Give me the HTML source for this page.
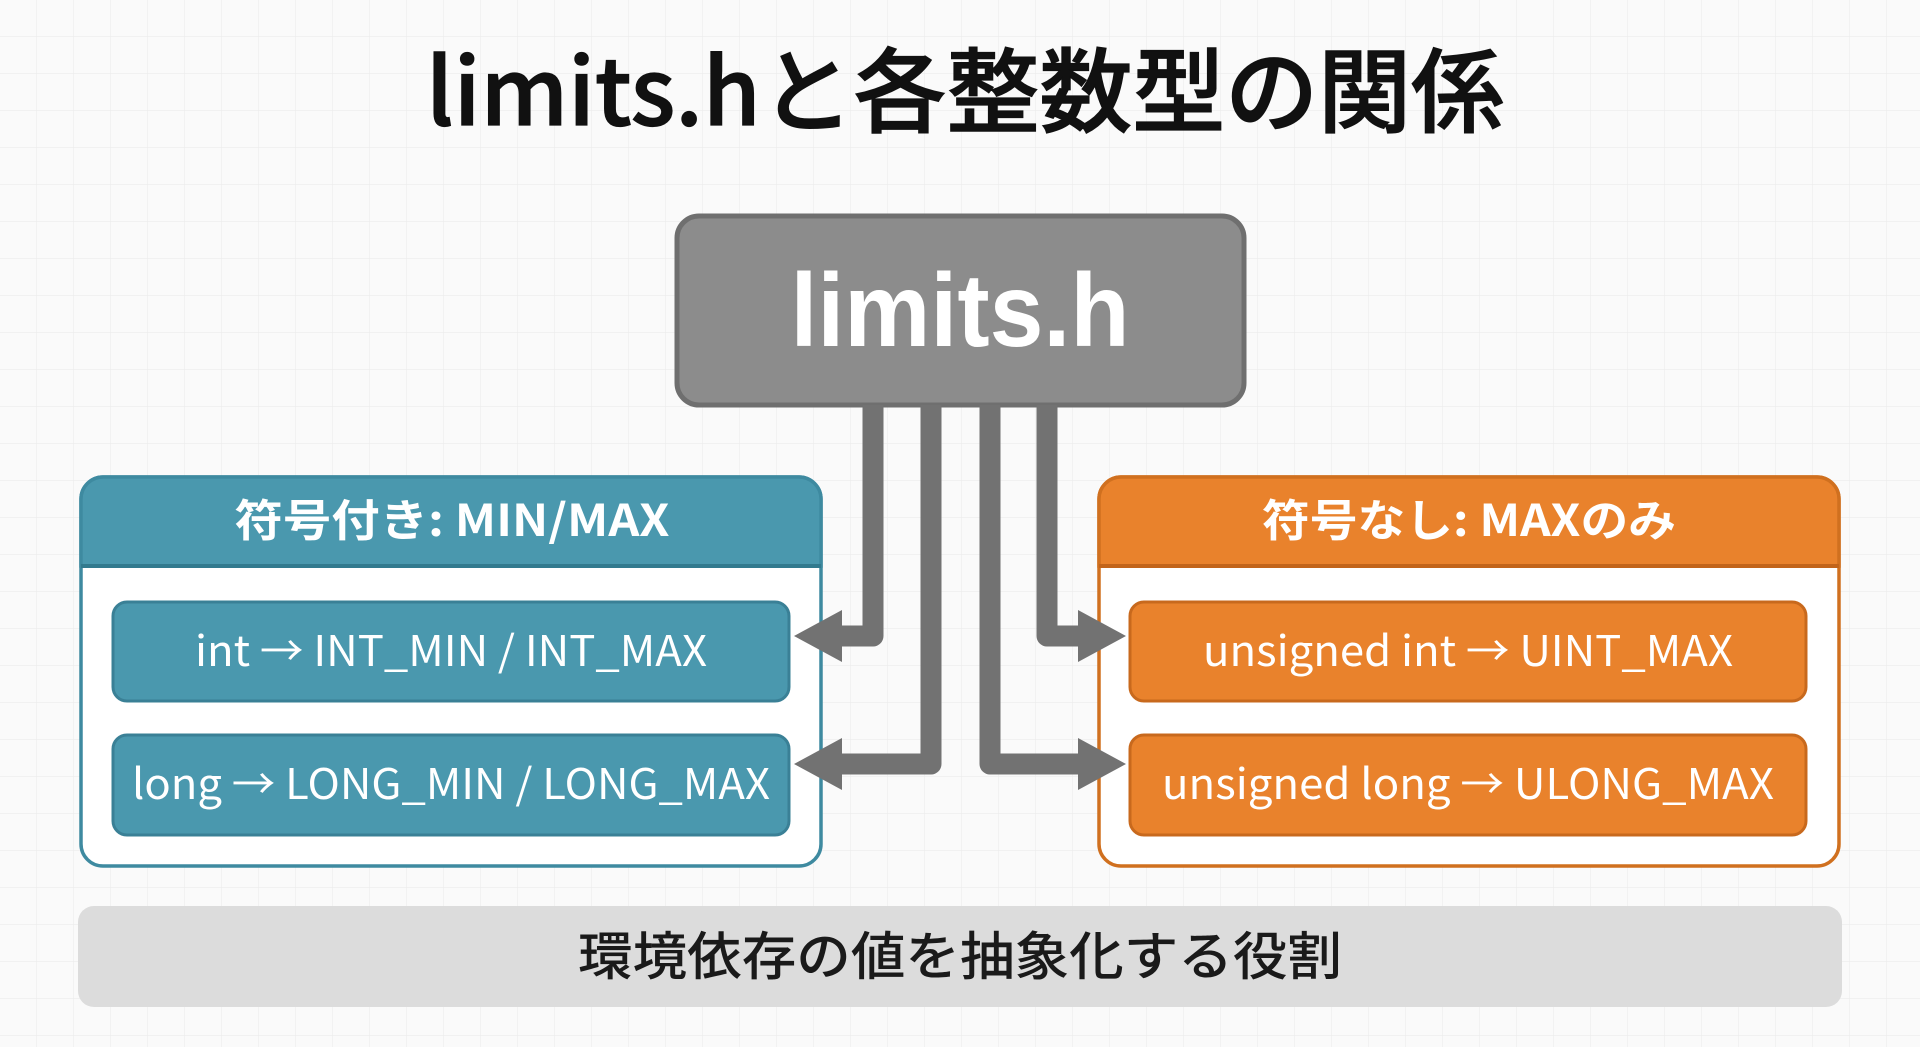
<!DOCTYPE html>
<html><head><meta charset="utf-8"><style>
html,body{margin:0;padding:0;width:1920px;height:1047px;overflow:hidden;background:#fafafa}
svg{display:block}
text{font-family:"Liberation Sans","Noto Sans CJK JP",sans-serif}
.j{font-family:"Noto Sans CJK JP",sans-serif}
</style></head><body>
<svg width="1920" height="1047" viewBox="0 0 1920 1047" xmlns="http://www.w3.org/2000/svg">
<defs>
<pattern id="g" width="37" height="37" patternUnits="userSpaceOnUse">
<path d="M37 0V37H0" fill="none" stroke="#ececec" stroke-width="1.2"/>
</pattern>
</defs>
<rect width="1920" height="1047" fill="#fafafa"/>
<rect width="1920" height="1047" fill="url(#g)"/>

<text class="j" x="965" y="125" text-anchor="middle" font-size="92" font-weight="500" fill="#111" stroke="#111" stroke-width="1.2" textLength="1078" lengthAdjust="spacingAndGlyphs">limits.hと各整数型の関係</text>

<!-- top box -->
<rect x="677" y="216" width="567" height="189" rx="22" fill="#8c8c8c" stroke="#6f6f6f" stroke-width="5"/>
<text x="960" y="346" text-anchor="middle" font-size="104" font-weight="bold" fill="#fff" textLength="339" lengthAdjust="spacingAndGlyphs">limits.h</text>

<!-- left panel -->
<rect x="81" y="477" width="740" height="389" rx="22" fill="#fff" stroke="#3e8aa0" stroke-width="3.5"/>
<path d="M81 566V499a22 22 0 0 1 22-22H799a22 22 0 0 1 22 22V566Z" fill="#4a98ae" stroke="#3e8aa0" stroke-width="3.5"/>
<line x1="81" y1="566" x2="821" y2="566" stroke="#327a8e" stroke-width="4"/>
<text class="j" x="452" y="536" text-anchor="middle" font-size="44" font-weight="bold" fill="#fff" textLength="435" lengthAdjust="spacingAndGlyphs">符号付き: MIN/MAX</text>
<rect x="113" y="602" width="676" height="99" rx="14" fill="#4a98ae" stroke="#3a8096" stroke-width="3"/>
<text class="j" x="451" y="666" text-anchor="middle" font-size="42" fill="#fff" textLength="512" lengthAdjust="spacingAndGlyphs">int → INT_MIN / INT_MAX</text>
<rect x="113" y="735" width="676" height="100" rx="14" fill="#4a98ae" stroke="#3a8096" stroke-width="3"/>
<text class="j" x="451" y="799" text-anchor="middle" font-size="42" fill="#fff" textLength="638" lengthAdjust="spacingAndGlyphs">long → LONG_MIN / LONG_MAX</text>

<!-- right panel -->
<rect x="1099" y="477" width="740" height="389" rx="22" fill="#fff" stroke="#d0701f" stroke-width="3.5"/>
<path d="M1099 566V499a22 22 0 0 1 22-22H1817a22 22 0 0 1 22 22V566Z" fill="#e9822c" stroke="#d0701f" stroke-width="3.5"/>
<line x1="1099" y1="566" x2="1839" y2="566" stroke="#c2641a" stroke-width="4"/>
<text class="j" x="1469" y="536" text-anchor="middle" font-size="44" font-weight="bold" fill="#fff" textLength="414" lengthAdjust="spacingAndGlyphs">符号なし: MAXのみ</text>
<rect x="1130" y="602" width="676" height="99" rx="14" fill="#e9822c" stroke="#c8691d" stroke-width="3"/>
<text class="j" x="1468" y="666" text-anchor="middle" font-size="42" fill="#fff" textLength="530" lengthAdjust="spacingAndGlyphs">unsigned int → UINT_MAX</text>
<rect x="1130" y="735" width="676" height="100" rx="14" fill="#e9822c" stroke="#c8691d" stroke-width="3"/>
<text class="j" x="1468" y="799" text-anchor="middle" font-size="42" fill="#fff" textLength="612" lengthAdjust="spacingAndGlyphs">unsigned long → ULONG_MAX</text>

<!-- connectors (drawn on top) -->
<g fill="none" stroke="#727272" stroke-width="21" stroke-linejoin="round">
<path d="M873 405V636H840"/>
<path d="M931 405V764H840"/>
<path d="M990 405V764H1080"/>
<path d="M1047 405V636H1080"/>
</g>
<g fill="#727272">
<polygon points="794,636 842,610 842,662"/>
<polygon points="794,764 842,738 842,790"/>
<polygon points="1126,636 1078,610 1078,662"/>
<polygon points="1126,764 1078,738 1078,790"/>
</g>

<!-- bottom bar -->
<rect x="78" y="906" width="1764" height="101" rx="16" fill="#dcdcdc"/>
<text class="j" x="960" y="975" text-anchor="middle" font-size="52" font-weight="500" fill="#1a1a1a" textLength="764" lengthAdjust="spacingAndGlyphs">環境依存の値を抽象化する役割</text>
</svg>
</body></html>
